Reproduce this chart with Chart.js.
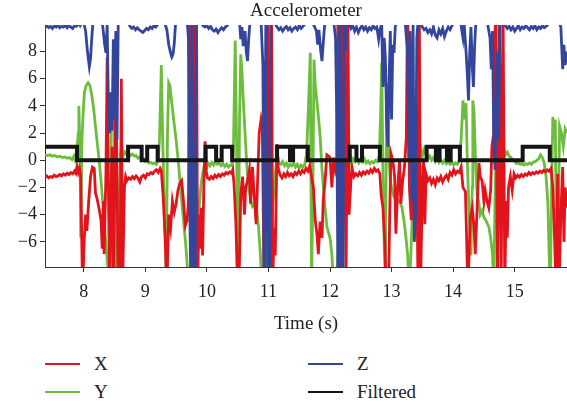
<!DOCTYPE html>
<html>
<head>
<meta charset="utf-8">
<script src="https://cdn.jsdelivr.net/npm/chart.js@4.4.1/dist/chart.umd.min.js"></script>
<style>
  html, body { margin: 0; padding: 0; background: #fff; }
  body { width: 567px; height: 406px; position: relative; overflow: hidden; font-family: 'Liberation Serif', 'Times New Roman', serif; color: #222; }
  #wrap { position: absolute; left: 0; top: 0; width: 567px; height: 345px; }
  .sw { position: absolute; width: 35px; height: 2px; }
  .lb { position: absolute; font-size: 19px; line-height: 20px; }
</style>
</head>
<body>
<div id="wrap"><canvas id="accChart"></canvas></div>
<div id="legend"></div>
<script>
// Accelerometer X (red)
const timeX = [7.37,7.40,7.43,7.46,7.49,7.52,7.55,7.58,7.61,7.64,7.67,7.70,7.73,7.76,7.79,7.82,7.85,7.87,7.89,7.91,7.93,7.95,
  7.98,8.01,8.03,8.05,8.08,8.11,8.14,8.17,8.19,8.22,8.25,8.28,8.30,8.32,8.33,8.36,8.38,8.40,8.42,8.44,8.46,8.48,8.50,8.52,8.54,8.56,8.59,8.61,8.63,8.66,8.68,
  8.70,8.73,8.76,8.79,8.82,8.85,8.88,8.91,8.94,8.97,9.00,9.03,9.06,9.09,9.12,9.15,9.18,9.21,9.24,9.26,
  9.29,9.32,9.35,9.38,9.41,9.44,9.47,9.50,9.53,9.56,9.59,9.62,9.65,9.68,9.70,9.72,9.74,9.76,9.78,9.80,9.83,9.85,9.87,9.89,9.91,9.93,9.95,9.97,9.99,10.01,
  10.04,10.07,10.10,10.13,10.16,10.19,10.22,10.25,10.28,10.31,10.34,10.37,10.40,10.42,
  10.44,10.47,10.50,10.52,10.55,10.58,10.61,10.63,10.66,10.69,10.71,10.74,10.77,10.80,10.82,10.85,10.88,10.90,10.93,10.96,10.99,11.02,11.05,11.07,11.09,11.11,11.14,11.16,11.19,
  11.22,11.25,11.28,11.31,11.34,11.37,11.40,11.43,11.46,11.49,11.52,11.55,11.58,11.61,11.64,11.67,11.70,
  11.73,11.76,11.79,11.81,11.84,11.87,11.89,11.92,11.95,11.98,12.00,12.03,12.06,12.09,12.11,12.13,12.15,12.18,12.20,12.23,12.26,12.29,12.31,12.34,12.36,
  12.39,12.42,12.45,12.48,12.51,12.54,12.57,12.60,12.63,12.66,12.69,12.72,12.75,12.78,
  12.81,12.83,12.86,12.89,12.91,12.95,12.97,12.99,13.02,13.05,13.07,13.10,13.13,13.15,13.18,13.21,13.24,13.26,13.29,13.32,13.35,13.37,13.40,13.43,13.45,13.47,13.50,13.52,13.54,13.56,
  13.59,13.62,13.65,13.68,13.71,13.74,13.77,13.80,13.83,13.86,13.89,13.92,13.95,13.98,14.01,14.04,14.07,14.10,14.13,14.16,
  14.20,14.24,14.28,14.31,14.34,14.36,14.39,14.42,14.44,14.47,14.50,14.52,14.55,14.58,14.61,14.63,14.66,14.69,14.72,14.75,14.78,14.81,14.84,14.86,14.88,14.90,14.93,14.96,14.99,
  15.02,15.05,15.08,15.11,15.14,15.17,15.20,15.23,15.26,15.29,15.32,15.35,15.38,15.41,15.44,15.47,15.50,15.53,15.56,15.59,
  15.62,15.65,15.67,15.70,15.72,15.75,15.78,15.80,15.82,15.85];
const valueX = [-1.2,-1.15,-1.3,-1.2,-1.25,-1.1,-1.2,-1.15,-1.05,-1.15,-1.0,-1.1,-0.95,-1.05,-0.9,-1.0,-0.8,-0.95,-0.45,-0.9,-0.6,-1.1,
  -9.5,-5.6,-4.0,-5.2,-3.0,-1.2,-0.5,-0.6,-2.4,-2.9,-3.6,-4.4,-6.5,-3.0,-6.9,-1.0,7.6,-2.0,-9.5,-3.0,1.0,-9.0,-2.5,5.7,-1.0,-9.5,-9.5,6.0,-9.5,-2.0,-1.2,
  -1.5,-1.3,-1.4,-1.2,-1.35,-1.15,-1.3,-1.6,-1.2,-1.1,-1.3,-1.0,-1.05,-0.9,-1.0,-0.8,-0.7,-0.9,-0.6,-0.8,
  -2.7,-5.5,-9.5,-4.0,-5.0,-3.0,-3.8,-3.2,-2.2,-1.7,-1.5,-3.0,-4.8,-4.4,-3.0,12,-2,-9.5,12,-9.5,12,-9.5,-4.0,-6.5,-3.5,-7.0,-2.0,1.4,-0.8,-1.3,
  -1.4,-1.2,-1.35,-1.1,-1.25,-1.05,-1.2,-1.0,-1.1,-0.9,-1.0,-0.85,-0.95,-0.7,
  -1.7,-4.5,-9.5,-9.5,-2.5,-1.2,-4.0,-2.0,-1.5,-0.7,-3.2,-0.5,-2.7,-4.7,-2.0,2.0,3.0,2.5,-9.5,-3,12,-9.5,12,-9.5,-5.0,-7.0,1.2,-0.6,-1.1,
  -1.3,-1.0,-1.2,-0.9,-1.15,-1.0,-1.2,-0.9,-1.05,-0.8,-1.0,-0.75,-0.9,-0.6,-0.8,-0.4,-1.2,
  -2.0,-4.4,-5.5,-6.9,-4.5,-5.7,-3.0,-1.5,0.4,0.3,0.2,-2.0,0.2,-0.8,-0.5,12,-9.5,12,-9.5,12,-9.5,12,-4.0,-1.5,-0.6,
  -1.2,-1.0,-1.15,-0.9,-1.1,-0.85,-1.0,-0.8,-0.95,-0.7,-0.9,-0.6,-0.8,-0.7,
  -1.0,-2.5,-3.5,-6.0,-9.5,-9.5,-4.0,0.5,0.0,-1.2,-5.4,-2.0,0.0,-3.2,-1.5,-0.5,1.7,12,-2.0,-4.4,-1.0,3.0,4.2,-9.5,12,-9.5,-2.0,0.0,-4.7,-1.0,
  -1.5,-1.3,-1.7,-1.4,-1.8,-1.3,-1.5,-1.2,-1.6,-1.3,-1.1,-1.4,-0.9,-1.1,-0.7,-1.0,-0.8,-0.9,-0.5,-2.0,
  -2.3,-9.5,-4.2,-3.5,-4.9,-6.9,-3.5,-0.2,-1.2,-1.5,-3.0,-2.2,-3.0,-3.5,-2.2,1.0,2.0,12,-9.5,12,-9.5,12,-9.5,-3.0,-5.7,-2.0,-1.2,-2.2,-1.0,
  -1.3,-1.1,-1.25,-1.05,-1.2,-1.0,-1.1,-0.9,-1.05,-0.9,-1.0,-0.85,-0.95,-0.8,-0.9,-0.75,-0.85,-0.7,-0.8,-0.6,
  -2.0,-6.0,-9.5,-1.0,-9.5,-4.0,-0.5,-6.0,-2.0,-3.5];

// Accelerometer Y (green)
const timeY = [7.37,7.41,7.45,7.49,7.53,7.57,7.61,7.65,7.69,7.73,7.77,7.81,7.84,7.86,7.88,
  7.91,7.92,7.94,7.95,7.97,7.99,8.01,8.04,8.07,8.10,8.13,8.16,8.19,8.22,8.25,8.28,8.31,8.34,8.37,8.40,8.42,
  8.45,8.48,8.50,8.52,8.55,8.58,8.60,8.62,8.64,
  8.67,8.70,8.73,8.76,8.79,8.82,8.85,8.88,8.91,8.94,8.97,9.00,9.03,9.06,9.09,9.12,9.15,9.18,
  9.21,9.23,9.26,9.28,9.30,9.32,9.34,9.36,9.38,9.40,9.43,9.46,9.50,9.54,9.58,9.62,9.66,9.70,
  9.74,9.78,9.81,9.84,9.87,9.90,9.93,9.96,9.99,
  10.02,10.05,10.08,10.11,10.14,10.17,10.20,10.23,10.26,10.29,10.32,10.35,10.38,10.41,
  10.43,10.46,10.48,10.50,10.51,10.53,10.55,10.57,10.59,10.62,10.65,10.68,10.71,10.74,10.78,10.81,10.84,10.87,10.90,
  10.95,10.99,11.03,11.06,11.09,11.12,11.15,11.17,
  11.20,11.23,11.26,11.29,11.32,11.35,11.38,11.41,11.44,11.47,11.50,11.53,11.56,11.59,
  11.62,11.65,11.68,11.70,11.72,11.74,11.76,11.79,11.82,11.84,11.87,11.90,11.92,11.95,11.98,12.00,12.03,12.06,
  12.10,12.14,12.18,12.22,12.26,12.29,12.32,12.35,
  12.38,12.41,12.44,12.47,12.50,12.53,12.56,12.59,12.62,12.65,12.68,12.71,12.74,12.77,
  12.80,12.82,12.84,12.86,12.88,12.90,12.92,12.94,12.96,12.98,13.01,13.04,13.07,13.10,13.14,13.17,13.20,13.23,13.26,13.29,
  13.33,13.36,13.38,13.41,13.44,13.47,13.50,13.53,
  13.56,13.59,13.62,13.65,13.68,13.71,13.74,13.77,13.80,13.83,13.86,13.89,13.92,13.95,13.98,14.01,14.04,14.07,
  14.10,14.13,14.16,14.19,14.21,14.23,14.26,14.29,14.31,14.32,14.34,14.36,14.39,14.42,14.44,14.47,14.50,14.53,14.58,14.61,14.64,14.66,
  14.68,14.70,14.73,14.76,14.79,14.82,14.85,14.88,14.91,14.94,14.97,15.00,15.03,15.06,15.09,15.12,15.15,15.18,15.21,15.24,15.27,15.30,15.33,15.36,15.39,15.42,15.45,15.48,
  15.51,15.54,15.56,15.58,15.60,15.62,15.64,15.66,15.68,15.71,15.73,15.76,15.79,15.82,15.85];
const valueY = [0.4,0.35,0.4,0.3,0.35,0.25,0.3,0.2,0.25,0.15,0.2,0.05,0.3,0.0,0.2,
  2.0,4.0,0.5,-5.7,1.5,3.5,5.0,5.5,5.7,5.5,4.8,3.8,2.5,1.2,0.0,-1.5,-3.2,-5.0,-6.7,-8.5,-9.5,
  3.5,5.1,2.0,-9.0,-6.0,-2.0,0.5,1.0,0.3,
  0.6,0.4,0.55,0.35,0.45,0.3,0.35,0.15,0.25,0.05,0.1,-0.1,0.0,-0.2,-0.15,-0.25,-0.2,-0.3,
  0.0,1.5,7.0,2.0,-2.0,-5.0,-9.0,2.0,5.7,5.5,4.2,3.0,1.5,-0.3,-2.5,-4.4,-6.4,-9.0,
  -9.0,-6.0,-3.5,-3.2,-3.8,-2.0,-1.0,-0.3,-0.6,
  -0.2,-0.4,-0.15,-0.35,-0.1,-0.3,-0.2,-0.4,-0.25,-0.45,-0.3,-0.5,-0.35,-0.4,
  0.5,8.8,2.0,-6.0,-9.0,3.0,7.8,6.5,4.5,2.0,-0.5,-2.0,-2.9,-3.4,-3.2,-3.6,-5.0,-7.0,-9.5,
  -9.5,-6.0,-4.4,-4.0,-2.0,-0.5,0.3,-0.2,
  -0.3,-0.1,-0.4,-0.2,-0.5,-0.3,-0.4,-0.2,-0.5,-0.3,-0.6,-0.35,-0.5,-0.3,
  0.5,4.0,7.9,-9.0,-3.0,7.4,5.5,4.2,2.8,1.7,-0.7,-2.5,-3.5,-4.9,-5.4,-5.7,-6.9,-9.5,
  -9.5,-6.0,-3.0,-1.0,0.5,-0.2,0.8,-0.3,
  0.1,-0.1,0.15,-0.2,0.0,-0.15,0.1,-0.2,-0.05,-0.25,-0.1,-0.2,0.0,-0.1,
  0.3,3.0,7.2,-1.0,-6.0,-9.0,5.7,3.0,0.0,-1.5,-2.2,-2.7,-2.8,-2.9,-3.1,-3.5,-4.4,-5.5,-6.9,-9.5,
  -5.0,0.5,2.5,1.0,0.5,1.0,0.3,0.8,
  0.4,0.1,0.3,0.0,0.2,-0.1,0.15,-0.15,0.05,-0.2,0.0,-0.25,-0.1,-0.3,-0.15,-0.35,-0.2,-0.3,
  0.0,1.5,4.4,3.0,4.2,0.0,-4.0,-7.0,-2.0,4.4,3.5,0.5,-2.5,-3.2,-4.0,-3.7,-4.2,-4.4,-4.9,-5.7,-6.9,-9.5,
  -3.0,1.0,0.6,0.8,0.5,1.0,0.4,0.6,0.3,0.2,0.0,-0.1,-0.25,-0.2,-0.3,-0.25,-0.35,-0.25,-0.3,-0.2,-0.3,-0.15,-0.1,0.0,0.1,0.4,0.2,-0.2,
  -1.2,-3.2,-7.0,-9.5,-2.0,3.2,1.5,3.0,-9.0,-4.0,2.5,2.0,1.0,2.3,2.0];

// Accelerometer Z (blue)
const timeZ = [7.37,7.40,7.43,7.46,7.49,7.52,7.55,7.58,7.61,7.64,7.67,7.70,7.73,7.76,7.79,7.82,7.85,7.88,7.91,7.94,7.97,8.00,
  8.03,8.06,8.09,8.11,8.13,8.15,8.20,8.25,8.30,8.34,8.36,8.38,8.40,8.42,8.44,8.46,8.48,8.50,8.52,8.54,8.56,8.60,8.66,8.72,
  8.75,8.78,8.81,8.84,8.87,8.90,8.93,8.96,8.99,9.02,9.05,9.08,9.11,9.14,9.17,9.20,9.23,9.30,
  9.35,9.38,9.41,9.43,9.45,9.47,9.49,9.55,9.62,9.68,9.70,9.72,9.74,9.76,9.78,9.81,9.83,9.86,
  9.90,9.94,9.97,10.00,10.03,10.06,10.09,10.12,10.15,10.18,10.21,10.24,10.27,10.30,10.33,10.36,10.45,
  10.53,10.55,10.57,10.59,10.62,10.64,10.66,10.68,10.70,10.80,10.88,10.91,10.93,10.96,10.99,11.02,11.04,11.06,
  11.10,11.14,11.17,11.20,11.23,11.26,11.29,11.32,11.35,11.38,11.41,11.44,11.47,11.50,11.53,11.56,11.59,11.62,11.70,
  11.78,11.80,11.82,11.85,11.87,11.89,11.91,11.93,12.00,12.06,12.09,12.11,12.13,12.16,12.18,12.21,12.23,12.25,12.27,
  12.31,12.34,12.37,12.40,12.43,12.46,12.49,12.52,12.55,12.58,12.61,12.64,12.67,12.70,12.73,12.76,12.79,12.81,12.84,
  12.86,12.88,12.90,12.92,12.94,12.96,12.98,13.00,13.02,13.04,13.06,13.08,13.15,13.22,13.26,13.28,13.30,13.33,13.35,13.37,13.39,13.41,13.43,
  13.47,13.50,13.53,13.56,13.59,13.62,13.65,13.68,13.71,13.74,13.77,13.80,13.83,13.86,13.89,13.92,13.95,13.98,14.01,14.06,14.12,
  14.16,14.18,14.21,14.23,14.25,14.27,14.29,14.31,14.33,14.35,14.37,14.45,14.55,14.60,14.62,14.64,14.66,14.68,14.70,14.72,14.74,14.76,14.80,
  14.85,14.88,14.91,14.94,14.97,15.00,15.03,15.06,15.09,15.12,15.15,15.18,15.21,15.24,15.27,15.30,15.33,15.36,15.39,15.42,15.45,15.48,15.51,15.54,15.58,15.66,15.72,
  15.75,15.78,15.80,15.82,15.85];
const valueZ = [9.8,9.9,9.75,9.85,9.7,9.9,9.8,9.95,9.75,9.85,9.8,9.95,9.75,9.9,9.8,9.7,9.9,9.85,10.1,9.9,10.2,10.1,
  9.5,8.0,6.9,7.5,9.0,10.2,10.3,10.3,10.2,8.5,7.9,10.0,4.0,2.0,5.0,2.2,8.9,3.0,9.5,1.5,10.2,10.4,10.3,10.2,
  9.85,9.7,9.8,9.6,9.75,9.6,9.5,9.4,9.55,9.7,9.6,9.8,9.7,9.9,9.8,10.0,10.3,10.3,
  9.6,8.5,7.9,7.6,7.8,8.6,10.0,10.3,10.3,10.2,9.0,-3.0,-9.5,12,-9.5,-9.5,12,10.2,
  10.2,9.9,9.8,9.9,9.7,9.85,9.6,9.5,9.65,9.4,9.6,9.75,9.6,9.8,9.9,10.2,10.3,
  10.2,8.9,9.8,8.4,9.5,8.0,7.3,9.0,10.2,10.3,10.2,7.0,-9.5,12,-9.5,-9.5,12,10.2,
  10.1,9.8,9.6,9.75,9.5,9.7,9.85,9.6,9.75,9.5,9.7,9.8,9.6,9.9,9.7,9.85,10.0,10.3,10.3,
  9.5,8.5,9.6,8.0,7.3,8.6,9.8,10.3,10.3,10.2,9.0,3.0,-9.5,12,-9.5,-9.5,12,8.0,10.2,
  10.1,9.7,9.9,9.5,9.8,9.4,9.7,9.9,9.6,9.8,9.5,9.75,9.6,9.9,9.7,9.8,8.9,9.6,10.0,
  5.4,9.0,7.5,3.0,1.0,6.0,9.5,3.0,8.5,7.9,9.8,10.2,10.3,10.2,8.0,0.0,9.5,-3.0,10.0,-6.0,-4.0,9.0,10.2,
  10.1,9.8,9.6,9.7,9.4,9.6,9.3,9.8,9.2,9.0,9.6,9.3,9.7,9.1,9.5,9.8,9.6,9.9,10.1,10.3,10.2,
  9.0,10.0,8.0,6.4,4.4,8.0,9.8,7.0,5.4,8.5,10.2,10.3,10.3,9.0,6.7,9.5,1.7,-0.7,4.0,8.0,1.5,10.2,10.3,
  9.9,9.7,9.85,9.6,9.8,9.5,9.7,9.9,9.6,9.8,9.7,9.9,9.75,9.6,9.85,9.7,9.9,9.6,9.8,9.7,9.9,9.75,9.85,10.0,10.3,10.3,10.2,
  9.8,6.7,8.5,7.0,8.0];

// Filtered output (black step)
const stepTimes = [7.37,7.89,8.72,8.94,9.03,9.20,9.98,10.15,10.24,10.41,11.14,11.35,11.40,11.64,12.32,12.43,12.52,12.81,
  13.57,13.72,13.78,13.90,13.96,14.11,15.13,15.57,15.85];
const stepValues = [1,0,1,0,1,0,1,0,1,0,1,0,1,0,1,0,1,0,1,0,1,0,1,0,1,0,0];

const seriesLabels = ['X', 'Y', 'Z', 'Filtered'];
const seriesColors = ['#e3131c', '#6dbd3d', '#34469c', '#151515'];

const toPoints = (ts, vs) => ts.map((t, i) => ({ x: t, y: vs[i] }));
const FONT = "'Liberation Serif', 'Times New Roman', serif";

// titre centré sur la zone de tracé
const plotTitle = {
  id: 'plotTitle',
  afterDraw(chart) {
    const { ctx, chartArea } = chart;
    ctx.save();
    ctx.font = '19px ' + FONT;
    ctx.fillStyle = '#222';
    ctx.textAlign = 'center';
    ctx.textBaseline = 'middle';
    ctx.fillText('Accelerometer', (chartArea.left + chartArea.right) / 2, 11);
    ctx.restore();
  }
};

const lineSet = (i, ts, vs, extra) => Object.assign({
  label: seriesLabels[i],
  data: toPoints(ts, vs),
  borderColor: seriesColors[i],
  backgroundColor: seriesColors[i],
  borderWidth: 2.8,
  pointRadius: 0,
  tension: 0,
  clip: 0
}, extra || {});

new Chart(document.getElementById('accChart'), {
  type: 'line',
  data: {
    datasets: [
      lineSet(0, timeX, valueX, { order: 2 }),
      lineSet(1, timeY, valueY, { order: 3 }),
      lineSet(2, timeZ, valueZ, { order: 1 }),
      lineSet(3, stepTimes, stepValues, { order: 0, stepped: 'before', borderWidth: 4 })
    ]
  },
  options: {
    responsive: true,
    maintainAspectRatio: false,
    animation: false,
    layout: { padding: { top: 25, left: 0, right: 0, bottom: 0 } },
    plugins: { legend: { display: false }, tooltip: { enabled: false }, title: { display: false } },
    scales: {
      x: {
        type: 'linear',
        min: 7.37,
        max: 15.85,
        afterFit: (s) => { s.height = 78; },
        border: { display: true, color: '#333', width: 1 },
        grid: { drawOnChartArea: false, drawTicks: true, tickLength: 5, color: '#333' },
        ticks: { stepSize: 1, includeBounds: false, color: '#222', padding: 9, font: { family: FONT, size: 18 } },
        title: { display: true, text: 'Time (s)', color: '#222', font: { family: FONT, size: 19 }, padding: { top: 4, bottom: 10 } }
      },
      y: {
        type: 'linear',
        min: -7.85,
        max: 9.95,
        afterFit: (s) => { s.width = 45; },
        border: { display: true, color: '#333', width: 1 },
        grid: { drawOnChartArea: false, drawTicks: true, tickLength: 5, color: '#333' },
        ticks: {
          stepSize: 2, includeBounds: false, color: '#222', padding: 3,
          font: { family: FONT, size: 18 },
          callback: (v) => (v < 0 ? '\u2212' + Math.abs(v) : String(v))
        }
      }
    }
  },
  plugins: [plotTitle]
});

// légende en HTML (2 colonnes)
const legend = document.getElementById('legend');
seriesLabels.forEach((name, i) => {
  const col = Math.floor(i / 2), row = i % 2;
  const left = col ? 308 : 45;
  const top = row ? 392 : 364;
  const sw = document.createElement('div');
  sw.className = 'sw';
  sw.style.left = left + 'px';
  sw.style.top = (top - 1) + 'px';
  sw.style.background = seriesColors[i];
  const lb = document.createElement('div');
  lb.className = 'lb';
  lb.style.left = (left + 49) + 'px';
  lb.style.top = (top - 10) + 'px';
  lb.textContent = name;
  legend.appendChild(sw);
  legend.appendChild(lb);
});
</script>
</body>
</html>
